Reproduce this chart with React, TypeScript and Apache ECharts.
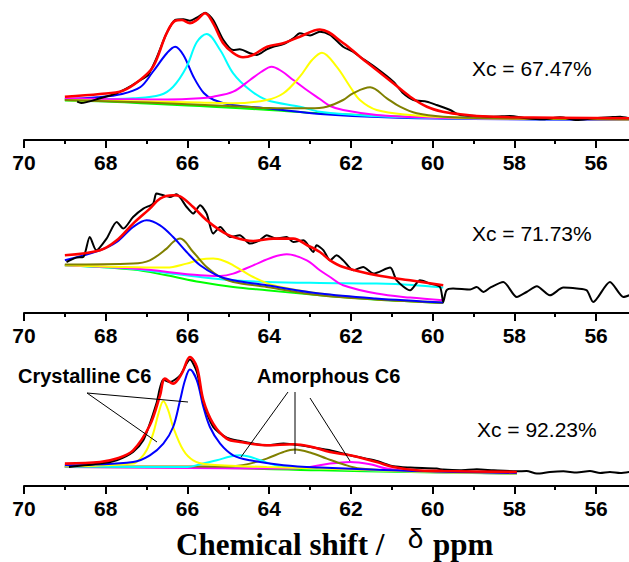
import React, { useEffect, useRef } from 'react';
import * as echarts from 'echarts';

// x: chemical shift (ppm), y: intensity (arb. units)
const xTickValues = [70, 68, 66, 64, 62, 60, 58, 56];

// ---------- Panel 1 (Xc = 67.47%) ----------
const p1Green = [[69,39.5],[68,38.5],[67,36.5],[66,34.5],[65.4,33.3],[64,30],[62.75,26.7],[61.5,24.5],[60.5,23],[59,22],[57,21],[55.2,20.7]];
const p1Blue = [[69,40.7],[68.2,42.7],[67.6,46],[67.15,53],[66.85,68],[66.5,87],[66.3,93.3],[66.1,85],[65.85,63],[65.6,47],[65.35,40],[64.9,35],[64,31.5],[62.75,26],[61,22.5],[59,21],[55.2,20]];
const p1Cyan = [[69,40.5],[68,41],[67.33,41.7],[66.67,45],[66.35,53.3],[66.02,73.3],[65.77,98],[65.53,106],[65.2,90],[64.88,66.7],[64.47,50],[64.06,40],[63.25,33.3],[62.76,28.3],[61.5,24],[60,22],[58,21],[55.2,20.5]];
const p1Magenta = [[69,41.7],[68,41],[67.33,40.7],[66.5,40.5],[65.69,41.7],[65.37,43.3],[64.88,48.3],[64.47,60],[64.2,68],[63.94,73.3],[63.7,69],[63.41,60],[63.08,50],[62.76,41],[62.51,34],[62.19,30],[61.37,25],[60.5,23],[59,21.5],[55.2,20.5]];
const p1Yellow = [[69,40],[67,38.5],[65.7,37.5],[64.88,36.7],[64.06,40],[63.65,46.7],[63.25,63.3],[62.95,80],[62.71,87.3],[62.35,73.3],[62.02,53.3],[61.78,40],[61.37,30],[60.55,25],[59.5,22.5],[57.5,21.3],[55.2,20.5]];
const p1Olive = [[69,40],[67,37.5],[65,34],[64,32],[63,31.7],[62.59,33.3],[62.19,40],[61.95,46.7],[61.53,52.7],[61.12,41.7],[60.8,33.3],[60.39,26.7],[59.74,23.3],[58.5,21.7],[55.2,20.7]];
const p1Exp = [[68.7,38.3],[68.6,37],[68.14,41.7],[67.73,46.7],[67.41,53.3],[67.08,61.7],[66.96,65],[66.76,81.7],[66.51,106.7],[66.3,120],[66.1,120.7],[65.94,119.3],[65.73,123.3],[65.57,127.3],[65.37,120],[65.12,100],[64.88,90],[64.72,90.7],[64.47,86.7],[64.31,85],[64.06,90.7],[63.9,93.3],[63.65,96],[63.41,101.7],[63.25,106.7],[63.0,104.5],[62.76,108.3],[62.51,105],[62.19,93.3],[61.95,88.3],[61.78,83.3],[61.37,71.7],[60.96,58.3],[60.72,46.7],[60.47,40],[60.14,38.3],[59.9,35],[59.57,30],[59.33,25],[58.92,24],[58.51,23.3],[58.11,24],[57.7,21.7],[57.29,20.7],[56.88,22.7],[56.47,20],[56.07,21.7],[55.66,22.7],[55.41,23.3],[55.19,21.7]];
const p1Fit = [[69,43.3],[68.14,46],[67.58,49.3],[67.16,60],[66.84,73.3],[66.51,106.7],[66.3,119.3],[66.14,120],[65.94,116.7],[65.77,120],[65.57,126.7],[65.37,116.7],[65.13,97],[64.88,87],[64.64,82.7],[64.4,85],[64.05,93.3],[63.66,96.7],[63.25,103.3],[62.76,110.5],[62.19,97],[61.78,83.3],[61.37,70],[60.97,57],[60.55,43.3],[60.14,33.3],[59.75,28.3],[59.33,25.7],[58.92,24],[58.11,22.7],[55.19,21.7]];

// ---------- Panel 2 (Xc = 71.73%) ----------
const p2Green = [[69,47.7],[67.33,43.4],[66.51,37.7],[65.69,31],[64.88,26],[64.06,22.7],[62.76,17.7],[61.4,13.4],[59.74,10]];
const p2Blue = [[69,52.7],[68.14,62.7],[67.73,71],[67.33,86],[67,92.7],[66.67,87.7],[66.35,76],[66.02,61],[65.69,47.7],[65.28,37.7],[64.88,32.7],[64.06,27.7],[62.76,19.4],[61.4,14.5],[59.74,10.5]];
const p2Olive = [[69,48.4],[67.33,49.4],[66.92,52.7],[66.51,64.4],[66.35,71],[66.18,74.4],[65.86,61],[65.53,46],[65.2,36],[64.88,31],[64.06,26],[62.76,17.7],[61.4,13.5],[59.74,10]];
const p2Yellow = [[69,47.7],[66.51,45.4],[66.02,49.4],[65.69,53.4],[65.37,54.4],[65.1,52],[64.88,47.7],[64.39,36],[63.9,27.7],[62.76,19.4],[61.4,14],[59.74,10.5]];
const p2Magenta = [[69,47.7],[67.33,44.4],[65.69,37.7],[65.2,37],[64.88,39.4],[64.39,47.7],[63.9,56],[63.57,58.7],[63.08,52.7],[62.76,42.7],[62.51,36],[62.19,27.7],[61.37,19.4],[60.55,15.4],[59.74,12.7]];
const p2Cyan = [[69,47.7],[67.33,44],[66.5,40],[65.69,36],[64.88,32.7],[64.06,31],[62.76,30],[61.37,29.4],[60.5,28],[59.74,25.4]];
const p2Exp = [[68.96,51],[68.72,55.4],[68.55,56],[68.39,76],[68.23,62.7],[67.98,74.4],[67.73,91],[67.57,84.4],[67.33,96],[67.08,104.4],[66.84,109.4],[66.76,119.4],[66.59,117.7],[66.43,116],[66.27,118.7],[66.02,106],[65.86,99.4],[65.69,107.7],[65.53,99.4],[65.37,79.4],[65.2,86],[64.96,76],[64.72,77.7],[64.47,69.4],[64.23,72.7],[64.06,77.7],[63.82,74.4],[63.57,76],[63.41,71],[63.16,72.7],[62.92,61],[62.84,67.7],[62.67,62.7],[62.51,52.7],[62.35,57.7],[62.19,52.7],[61.94,42.7],[61.7,46],[61.45,39.4],[61.04,45.4],[60.88,32.7],[60.55,22.7],[60.31,32.7],[60.06,29.4],[59.82,26],[59.74,11],[59.66,22.7],[59.5,24.4],[59.08,23.4],[58.92,26],[58.76,21],[58.59,25.4],[58.27,31],[57.94,16],[57.7,21],[57.45,26.7],[57.13,17.7],[56.8,25.4],[56.47,24.4],[56.23,22.7],[56.07,11],[55.66,31],[55.33,16],[55.19,17.7]];
const p2Fit = [[69,57.7],[68.14,62.7],[67.73,72.7],[67.33,89.4],[66.92,104.4],[66.67,114.4],[66.35,117.7],[66.18,116.7],[65.86,106],[65.53,92.7],[65.2,82.7],[64.88,76],[64.39,72],[63.9,74.4],[63.41,74.4],[63.08,68],[62.76,61],[62.51,52.7],[62.19,46],[61.37,37.7],[60.55,32.7],[59.74,27.7]];

// ---------- Panel 3 (Xc = 92.23%) ----------
const p3Green = [[69,19],[65.69,18.4],[62.76,15.7],[60.55,14],[57.94,12.4]];
const p3Blue = [[69,20.7],[67.33,24],[66.92,30.7],[66.59,42.4],[66.35,59],[66.18,85.7],[66.06,105.7],[65.94,116.4],[65.77,105.7],[65.61,79],[65.45,59],[65.2,42.4],[64.88,30.7],[64.47,25.7],[63.65,20.7],[62.76,18.4],[60.5,15],[57.94,13]];
const p3Yellow = [[69,19.7],[67.33,22.4],[67.16,27],[67.0,35.7],[66.84,52.4],[66.71,72.4],[66.59,84.7],[66.47,75.7],[66.35,59],[66.1,35.7],[65.86,25.7],[65.53,21.7],[64.06,19],[62.76,17.4],[60.5,14.5],[57.94,12.5]];
const p3Cyan = [[69,19.5],[66,19],[65.69,21.7],[65.28,25.7],[64.95,29.5],[64.71,30.7],[64.45,29],[64.22,25.7],[63.73,19.7],[62.76,17.4],[60.5,14.5],[57.94,12.5]];
const p3Olive = [[69,19.5],[65,19.5],[64.88,19.7],[64.47,22.4],[64.06,27.4],[63.65,34],[63.37,36.4],[63.0,33.5],[62.59,27.4],[62.19,21.7],[61.78,17.4],[60.55,14.7],[57.94,12.5]];
const p3Magenta = [[69,19],[64,17.5],[63.41,17.4],[63.0,19],[62.51,22.4],[62.02,24],[61.53,21.7],[61.12,17.4],[60.55,14.7],[57.94,12.5]];
const p3Exp = [[68.9,19],[68.14,22.4],[67.73,25.7],[67.33,34],[67.08,45.7],[66.92,62.4],[66.76,82.4],[66.59,106.4],[66.43,104],[66.18,110.7],[65.94,126.4],[65.77,114],[65.61,84],[65.37,59],[65.04,48.4],[64.71,45],[64.39,42.4],[64.06,40.7],[63.65,42.4],[63.25,40.7],[62.76,37.4],[62.51,35.7],[62.02,30.7],[61.37,25],[60.96,19.7],[60.55,18.4],[59.9,17.4],[59.74,16.4],[59.33,15.7],[58.92,16.7],[58.51,15.7],[57.94,14.7],[57.7,15],[57.45,12.4],[57.13,14],[56.8,14.7],[56.47,13.4],[56.15,15],[55.9,13],[55.66,14],[55.41,13],[55.19,14]];
const p3Fit = [[69,22.4],[68.14,24],[67.73,27.4],[67.33,35.7],[66.92,60.7],[66.67,90.7],[66.55,107.4],[66.35,102.4],[66.14,112.4],[65.94,129],[65.77,119],[65.61,85.7],[65.37,62.4],[65.04,47.4],[64.71,44],[64.06,40.7],[63.41,41.7],[63.0,39.5],[62.51,34],[62.02,30.7],[61.37,24],[60.96,19],[60.39,15.7],[59.74,15],[57.94,14]];

const xcLabels = ['Xc = 67.47%', 'Xc = 71.73%', 'Xc = 92.23%'];

const C = {
  green: '#00ff00', blue: '#0000ff', cyan: '#00ffff', magenta: '#ff00ff',
  yellow: '#ffff00', olive: '#808000', black: '#000000', red: '#ff0000',
};

const panels = [
  [['green', p1Green], ['blue', p1Blue], ['cyan', p1Cyan], ['magenta', p1Magenta], ['yellow', p1Yellow], ['olive', p1Olive], ['black', p1Exp], ['red', p1Fit]],
  [['green', p2Green], ['cyan', p2Cyan], ['magenta', p2Magenta], ['yellow', p2Yellow], ['olive', p2Olive], ['blue', p2Blue], ['black', p2Exp], ['red', p2Fit]],
  [['green', p3Green], ['magenta', p3Magenta], ['olive', p3Olive], ['cyan', p3Cyan], ['yellow', p3Yellow], ['blue', p3Blue], ['black', p3Exp], ['red', p3Fit]],
] as [string, number[][]][][];

export default function App() {
  const ref = useRef<HTMLDivElement>(null);
  useEffect(() => {
    const chart = echarts.init(ref.current!, null, { renderer: 'svg' });
    const tops = [0, 173, 346];
    // 70 ppm at x=24, 40.86 px per ppm; axis runs from 70 to 54 (beyond the right edge)
    const grid = tops.map((t) => ({ left: 24, width: 653.8, top: t, height: 140, outerBoundsMode: 'none', containLabel: false }));
    const xAxis = tops.map((_, i) => ({
      type: 'value', gridIndex: i, min: 54, max: 70, interval: 2, inverse: true,
      axisLine: { show: true, onZero: false, lineStyle: { color: '#000', width: 2 } },
      axisTick: { show: true, length: 8, lineStyle: { color: '#000', width: 2 } },
      minorTick: { show: true, splitNumber: 2, length: 4, lineStyle: { color: '#000', width: 2 } },
      splitLine: { show: false },
      axisLabel: {
        color: '#000', fontSize: 21, fontWeight: 'bold', fontFamily: 'Liberation Sans, Arial, sans-serif', margin: 12,
        formatter: (v: number) => (xTickValues.includes(v) ? String(v) : ''),
      },
    }));
    const yAxis = tops.map((_, i) => ({ type: 'value', gridIndex: i, min: 0, max: 140, show: false }));
    const series: any[] = [];
    panels.forEach((p, i) => {
      p.forEach(([col, data]) => {
        series.push({
          type: 'line', xAxisIndex: i, yAxisIndex: i, data, showSymbol: false,
          smooth: col === 'black' ? 0.25 : 0.35,
          lineStyle: { color: (C as any)[col], width: col === 'red' ? 2.6 : 2 },
          silent: true,
        });
      });
    });
    const ln = (x1: number, y1: number, x2: number, y2: number) => ({
      type: 'line', shape: { x1, y1, x2, y2 }, style: { stroke: '#000', lineWidth: 1 }, z: 100,
    });
    const txt = (text: string, x: number, y: number, font: any) => ({
      type: 'text', x, y, z: 100,
      style: { text, fill: '#000', verticalAlign: 'middle', ...font },
    });
    const sans = { fontFamily: 'Liberation Sans, Arial, sans-serif', fontSize: 21 };
    const graphic = [
      txt(xcLabels[0], 472, 68, sans),
      txt(xcLabels[1], 472, 233, sans),
      txt(xcLabels[2], 477, 429, sans),
      txt('Crystalline C6', 18, 375.5, { fontFamily: 'Liberation Sans, Arial, sans-serif', fontSize: 20, fontWeight: 'bold' }),
      txt('Amorphous C6', 257, 375.5, { fontFamily: 'Liberation Sans, Arial, sans-serif', fontSize: 20, fontWeight: 'bold' }),
      ln(87, 393, 188, 402),
      ln(87, 393, 157, 442),
      ln(288, 392, 241, 457),
      ln(295, 392, 295, 454),
      ln(310, 398, 350, 461),
      txt('Chemical shift /', 176, 544, { fontFamily: 'Liberation Serif, Times New Roman, serif', fontSize: 31, fontWeight: 'bold' }),
      { type: 'text', x: 415.5, y: 538, z: 100, style: { text: 'δ', fill: '#000', align: 'center', verticalAlign: 'middle', fontFamily: 'Liberation Sans, Arial, sans-serif', fontSize: 28 } },
      txt('ppm', 433, 544, { fontFamily: 'Liberation Serif, Times New Roman, serif', fontSize: 31, fontWeight: 'bold' }),
    ];
    chart.setOption({ animation: false, grid, xAxis, yAxis, series, graphic });
    return () => chart.dispose();
  }, []);
  return <div ref={ref} style={{ position: 'absolute', left: 0, top: 0, width: 629, height: 562, background: '#fff' }} />;
}
